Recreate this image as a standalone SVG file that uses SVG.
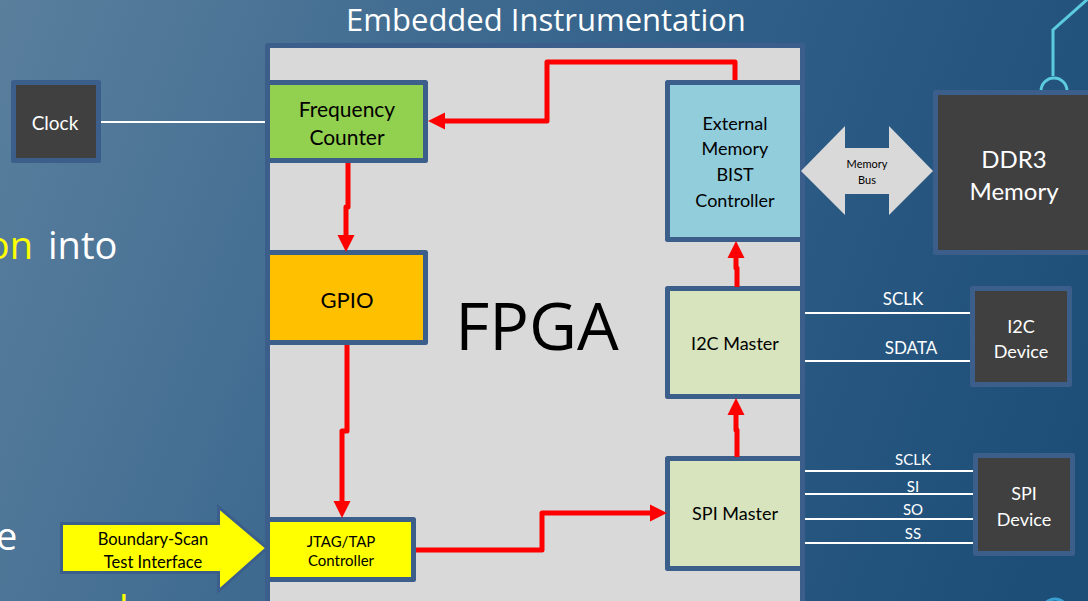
<svg xmlns="http://www.w3.org/2000/svg" width="1088" height="601" viewBox="0 0 1088 601">
  <defs>
    <linearGradient id="bg" gradientUnits="userSpaceOnUse" x1="0" y1="0" x2="1088" y2="420">
      <stop offset="0" stop-color="#5a7f9d"/>
      <stop offset="0.55" stop-color="#32618a"/>
      <stop offset="1" stop-color="#1d4e78"/>
    </linearGradient>
    <marker id="head" viewBox="0 -9 17 18" markerWidth="17" markerHeight="18" refX="0" refY="0" orient="auto" markerUnits="userSpaceOnUse" overflow="visible">
      <path d="M0,-8.5 L17,0 L0,8.5 Z" fill="#ff0000"/>
    </marker>
    <style>
      .box { stroke: #3b5e8b; stroke-width: 5; stroke-linejoin: round; }
      .dark { fill: #404040; }
      .lbl { font-family: Lato, "Liberation Sans", sans-serif; text-anchor: middle; dominant-baseline: central; }
      .wt { fill: #ffffff; }
      .bk { fill: #000000; }
      .wire { stroke: #ffffff; stroke-width: 2; fill: none; }
      .flow { stroke: #ff0000; stroke-width: 5; fill: none; stroke-linejoin: round; marker-end: url(#head); }
      .deco { stroke: #5ccbe0; stroke-width: 3; fill: none; }
      .side { font-family: "Open Sans", "Liberation Sans", sans-serif; font-size: 38px; }
    </style>
  </defs>

  <!-- backdrop -->
  <rect x="0" y="0" width="1088" height="601" fill="url(#bg)"/>

  <!-- decorative circuit traces -->
  <path class="deco" d="M1090,-3 L1053,30 V76"/>
  <path class="deco" d="M1041,91 A13,13 0 0 1 1067,91"/>
  <circle cx="1055" cy="612" r="13" fill="none" stroke="#3aa0d2" stroke-width="3"/>

  <!-- side text fragments, running off the left and bottom edges -->
  <text class="side" x="33" y="259" text-anchor="end" fill="#ffff00">on</text>
  <text class="side" x="48" y="259" fill="#ffffff">into</text>
  <text class="side" x="-4" y="550" fill="#ffffff">e</text>
  <text class="side" x="119" y="623" fill="#ffff00">l</text>

  <!-- FPGA area -->
  <g id="fpga">
    <rect class="box" x="267.5" y="45.5" width="535" height="600" fill="#d9d9d9"/>
    <text x="537" y="350" font-family="'Open Sans', 'Liberation Sans', sans-serif" font-size="66" text-anchor="middle" fill="#000">FPGA</text>
    <text x="546" y="31" font-family="'Open Sans', 'Liberation Sans', sans-serif" font-size="31" text-anchor="middle" fill="#ffffff">Embedded Instrumentation</text>
  </g>

  <!-- white signal wires -->
  <g id="wires">
    <path class="wire" d="M98,122 H268"/>
    <path class="wire" d="M802,313 H972"/>
    <path class="wire" d="M802,361 H972"/>
    <path class="wire" d="M802,471 H975"/>
    <path class="wire" d="M802,494 H975"/>
    <path class="wire" d="M802,519 H975"/>
    <path class="wire" d="M802,543 H975"/>
    <text class="lbl wt" x="903" y="298" font-size="17">SCLK</text>
    <text class="lbl wt" x="911" y="347" font-size="17">SDATA</text>
    <text class="lbl wt" x="913" y="459" font-size="15">SCLK</text>
    <text class="lbl wt" x="913" y="486" font-size="15">SI</text>
    <text class="lbl wt" x="913" y="509" font-size="15">SO</text>
    <text class="lbl wt" x="913" y="533" font-size="15">SS</text>
  </g>

  <g id="clock">
    <rect class="box dark" x="13.5" y="82.5" width="85" height="78"/>
    <text class="lbl wt" x="55" y="122" font-size="19">Clock</text>
  </g>

  <g id="freq-counter">
    <rect class="box" x="267.5" y="82.5" width="158" height="78" fill="#92d050"/>
    <text class="lbl bk" x="347" y="108" font-size="21">Frequency</text>
    <text class="lbl bk" x="347" y="136" font-size="21">Counter</text>
  </g>

  <g id="gpio">
    <rect class="box" x="267.5" y="252.5" width="158" height="90" fill="#ffc000"/>
    <text class="lbl bk" x="347" y="299" font-size="22">GPIO</text>
  </g>

  <g id="jtag">
    <rect class="box" x="267.5" y="519.5" width="146" height="60" fill="#ffff00"/>
    <text class="lbl bk" x="341" y="541" font-size="15">JTAG/TAP</text>
    <text class="lbl bk" x="341" y="560" font-size="15">Controller</text>
  </g>

  <g id="bs-interface">
    <path d="M61.5,523.5 H218.5 V507 L267,548 L218.5,591 V572.5 H61.5 Z" fill="#ffff00" stroke="#3b5e8b" stroke-width="3" stroke-linejoin="miter"/>
    <text class="lbl bk" x="153" y="539" font-size="16.5">Boundary-Scan</text>
    <text class="lbl bk" x="153" y="562" font-size="16.5">Test Interface</text>
  </g>

  <g id="ext-mem-bist">
    <rect class="box" x="667.5" y="82.5" width="135" height="157" fill="#92cddc"/>
    <text class="lbl bk" x="735" y="123" font-size="18">External</text>
    <text class="lbl bk" x="735" y="148" font-size="18">Memory</text>
    <text class="lbl bk" x="735" y="174" font-size="18">BIST</text>
    <text class="lbl bk" x="735" y="200" font-size="18">Controller</text>
  </g>

  <g id="i2c-master">
    <rect class="box" x="667.5" y="288.5" width="135" height="108" fill="#d7e4bd"/>
    <text class="lbl bk" x="735" y="343" font-size="18">I2C Master</text>
  </g>

  <g id="spi-master">
    <rect class="box" x="667.5" y="458.5" width="135" height="110" fill="#d7e4bd"/>
    <text class="lbl bk" x="735" y="513" font-size="18">SPI Master</text>
  </g>

  <g id="memory-bus">
    <path d="M801,171 L845,126 V148 H889 V126 L933,171 L889,215 V194 H845 V215 Z" fill="#d9d9d9"/>
    <text class="lbl bk" x="867" y="163" font-size="11">Memory</text>
    <text class="lbl bk" x="867" y="179" font-size="11">Bus</text>
  </g>

  <g id="ddr3">
    <rect class="box dark" x="935.5" y="92.5" width="155" height="160"/>
    <text class="lbl wt" x="1014" y="158" font-size="24">DDR3</text>
    <text class="lbl wt" x="1014" y="190" font-size="24">Memory</text>
  </g>

  <g id="i2c-device">
    <rect class="box dark" x="972.5" y="288.5" width="97" height="96"/>
    <text class="lbl wt" x="1021" y="326" font-size="18">I2C</text>
    <text class="lbl wt" x="1021" y="351" font-size="18">Device</text>
  </g>

  <g id="spi-device">
    <rect class="box dark" x="975.5" y="455.5" width="97" height="98"/>
    <text class="lbl wt" x="1024" y="493" font-size="18">SPI</text>
    <text class="lbl wt" x="1024" y="519" font-size="18">Device</text>
  </g>

  <!-- control flow connectors -->
  <g id="connectors">
    <path class="flow" d="M348,163 V207 H346 V235"/>
    <path class="flow" d="M347,345 V431 H342 V501"/>
    <path class="flow" d="M416,550 H542 V513 H650"/>
    <path class="flow" d="M737,457 V430 H736 V415"/>
    <path class="flow" d="M737,287 V268 H736 V258"/>
    <path class="flow" d="M735,80 V62 H547 V121 H445"/>
  </g>
</svg>
